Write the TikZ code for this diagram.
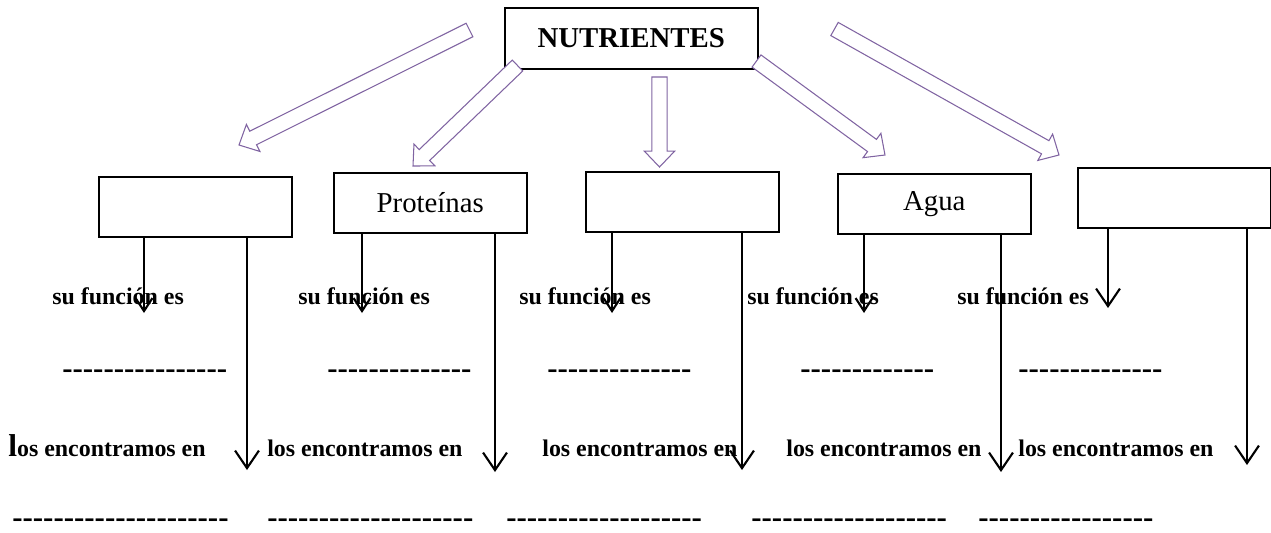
\documentclass[tikz,border=0pt]{standalone}
\usepackage{fontspec}
\setmainfont{Liberation Serif}
\usetikzlibrary{calc,arrows.meta}
\definecolor{lila}{RGB}{128,100,162}
\tikzstyle{caja}=[draw,line width=0.9pt,inner sep=0pt,anchor=north west,minimum width=3.86cm,minimum height=1.2cm,font=\fontsize{16.4}{18}\selectfont]
\tikzstyle{texto}=[inner sep=0pt,anchor=base west,font=\bfseries\fontsize{13.6}{15}\selectfont]
\tikzstyle{raya}=[inner sep=0pt,anchor=base west,font=\bfseries\fontsize{17.6}{19}\selectfont]
\tikzstyle{corta}=[line width=1.2pt,-{Straight Barb[length=7.4pt,width=9.6pt]}]
\tikzstyle{larga}=[line width=1.2pt,-{Straight Barb[length=10pt,width=13.6pt]}]
\tikzstyle{hueca}=[draw=lila,fill=white,line width=0.6pt]
\newcommand\guiones[1]{\foreach \i in {1,...,#1}{-\kern0pt}}
\newcommand\flechahueca[2]{%
  \draw[hueca] let \p1=($(#2)-(#1)$), \n1={atan2(\y1,\x1)}, \n2={veclen(\x1,\y1)-9} in
    ($(#1)+(\n1+90:4.3pt)$) -- ($(#1)+(\n1:\n2)+(\n1+90:4.3pt)$)
    -- ($(#1)+(\n1:\n2)+(\n1+90:8.6pt)$) -- (#2)
    -- ($(#1)+(\n1:\n2)+(\n1-90:8.6pt)$) -- ($(#1)+(\n1:\n2)+(\n1-90:4.3pt)$)
    -- ($(#1)+(\n1-90:4.3pt)$) -- cycle;}

\begin{document}
\begin{tikzpicture}[x=0.02cm,y=-0.02cm]
    \useasboundingbox (0,0) rectangle (1271,532);
    % cajas
    \node [caja,minimum width=5.06cm,minimum height=1.22cm,font=\bfseries\fontsize{16.4}{18}\selectfont] (nut) at (504,7) {NUTRIENTES};
    \node [caja] (b1) at (98,176) {};
    \node [caja] (b2) at (333,172) {Proteínas};
    \node [caja] (b3) at (585,171) {};
    \node [caja] (b4) at (837,173) {Agua};
    \node [caja] (b5) at (1077,167) {};
    % flechas huecas
    \coordinate (c1) at (469.5,30);   \coordinate (p1) at (239,145);
    \coordinate (c2) at (517.5,65.5); \coordinate (p2) at (413,166);
    \coordinate (c3) at (659.5,77);   \coordinate (p3) at (659.5,167);
    \coordinate (c4) at (756.5,61);   \coordinate (p4) at (885,155);
    \coordinate (c5) at (834.5,29);   \coordinate (p5) at (1059,155);
    \flechahueca{c1}{p1}
    \flechahueca{c2}{p2}
    \flechahueca{c3}{p3}
    \flechahueca{c4}{p4}
    \flechahueca{c5}{p5}
    % flechas
    \coordinate (s1) at (144,313);  \coordinate (l1) at (247,470);
    \coordinate (s2) at (362,313);  \coordinate (l2) at (495,472);
    \coordinate (s3) at (612,313);  \coordinate (l3) at (742,470);
    \coordinate (s4) at (864,313);  \coordinate (l4) at (1001,472);
    \coordinate (s5) at (1108,308); \coordinate (l5) at (1247,465);
    \draw [corta] (b1.south -| s1) -- (s1);
    \draw [corta] (b2.south -| s2) -- (s2);
    \draw [corta] (b3.south -| s3) -- (s3);
    \draw [corta] (b4.south -| s4) -- (s4);
    \draw [larga] (b5.south -| s5) -- (s5);
    \draw [larga] (b1.south -| l1) -- (l1);
    \draw [larga] (b2.south -| l2) -- (l2);
    \draw [larga] (b3.south -| l3) -- (l3);
    \draw [larga] (b4.south -| l4) -- (l4);
    \draw [larga] (b5.south -| l5) -- (l5);
    % textos
    \node [texto] (f1) at (52,304) {su función es};
    \node [texto] (f2) at (298,304) {su función es};
    \node [texto] (f3) at (519,304) {su función es};
    \node [texto] (f4) at (747,304) {su función es};
    \node [texto] (f5) at (957,304) {su función es};
    \node [raya] (r1) at (62,378) {\guiones{16}};
    \node [raya] (r2) at (327,378) {\guiones{14}};
    \node [raya] (r3) at (547,378) {\guiones{14}};
    \node [raya] (r4) at (800,378) {\guiones{13}};
    \node [raya] (r5) at (1018,378) {\guiones{14}};
    \node [texto] (e1) at (8,456) {{\fontsize{18}{20}\selectfont l}os encontramos en};
    \node [texto] (e2) at (267,456) {los encontramos en};
    \node [texto] (e3) at (542,456) {los encontramos en};
    \node [texto] (e4) at (786,456) {los encontramos en};
    \node [texto] (e5) at (1018,456) {los encontramos en};
    \node [raya] (q1) at (12,527) {\guiones{21}};
    \node [raya] (q2) at (267,527) {\guiones{20}};
    \node [raya] (q3) at (506,527) {\guiones{19}};
    \node [raya] (q4) at (751,527) {\guiones{19}};
    \node [raya] (q5) at (978,527) {\guiones{17}};
\end{tikzpicture}
\end{document}
